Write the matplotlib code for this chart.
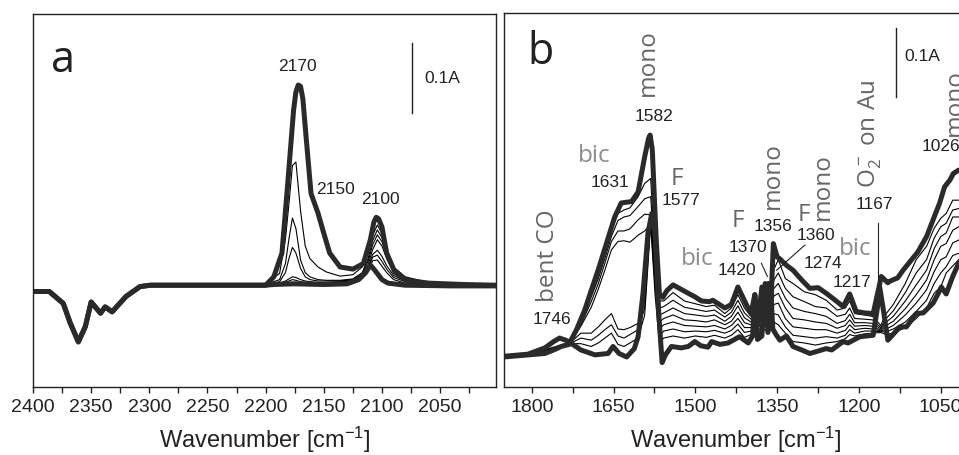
import matplotlib
matplotlib.use('Agg')
import matplotlib.pyplot as plt
from matplotlib.ticker import MultipleLocator

plt.rcParams['font.family'] = ['Liberation Sans', 'DejaVu Sans']
plt.rcParams['mathtext.default'] = 'regular'

# ---------------- panel a (CO region) ----------------
wn_a_top = [2400, 2386, 2374, 2368, 2361, 2355, 2350, 2342, 2338, 2332, 2320, 2308, 2299, 2250, 2200,
            2193, 2186, 2181, 2176, 2174, 2172, 2170, 2168, 2165, 2161, 2155, 2150, 2145, 2136, 2125, 2116, 2110,
            2107, 2105, 2103, 2100, 2096, 2089, 2079, 2060, 2030, 2002]
a_top = [-0.005, -0.005, -0.022, -0.050, -0.077, -0.055, -0.020, -0.036, -0.027, -0.034, -0.012, 0.002, 0.004, 0.004, 0.004,
         0.016, 0.050, 0.150, 0.254, 0.280, 0.290, 0.288, 0.270, 0.211, 0.135, 0.107, 0.078, 0.050, 0.030, 0.027, 0.035, 0.069,
         0.094, 0.101, 0.099, 0.087, 0.050, 0.023, 0.011, 0.007, 0.005, 0.004]

wn_a_bot = [2400, 2386, 2374, 2368, 2361, 2355, 2350, 2342, 2338, 2332, 2320, 2308, 2299, 2250, 2200,
            2193, 2176, 2150, 2130, 2120, 2114, 2110, 2106, 2100, 2095, 2080, 2040, 2002]
a_bot = [-0.005, -0.005, -0.022, -0.050, -0.077, -0.055, -0.020, -0.036, -0.027, -0.034, -0.012, 0.002, 0.004, 0.004, 0.004,
         0.005, 0.006, 0.005, 0.006, 0.012, 0.022, 0.033, 0.025, 0.012, 0.007, 0.004, 0.003, 0.003]

wn_a_thin = [2200, 2188, 2183, 2180, 2177, 2174, 2170, 2166, 2162, 2155, 2148, 2136,
             2125, 2117, 2112, 2108, 2104, 2100, 2096, 2090, 2080, 2060, 2030, 2002]
a_t0 = [0.005, 0.021, 0.070, 0.120, 0.175, 0.180, 0.110, 0.060, 0.042, 0.030, 0.023, 0.017,
        0.019, 0.030, 0.050, 0.075, 0.090, 0.078, 0.055, 0.030, 0.016, 0.008, 0.005, 0.004]
a_t1 = [0.005, 0.012, 0.035, 0.070, 0.100, 0.085, 0.040, 0.022, 0.016, 0.012, 0.011, 0.011,
        0.013, 0.022, 0.042, 0.068, 0.083, 0.072, 0.050, 0.027, 0.014, 0.007, 0.005, 0.004]
a_t2 = [0.005, 0.009, 0.022, 0.042, 0.058, 0.050, 0.028, 0.016, 0.012, 0.010, 0.010, 0.010,
        0.012, 0.020, 0.038, 0.062, 0.076, 0.066, 0.046, 0.025, 0.013, 0.007, 0.005, 0.004]
a_t3 = [0.005, 0.007, 0.010, 0.013, 0.016, 0.015, 0.012, 0.010, 0.009, 0.008, 0.008, 0.009,
        0.011, 0.018, 0.033, 0.055, 0.069, 0.060, 0.042, 0.022, 0.012, 0.006, 0.004, 0.004]
a_t4 = [0.004, 0.006, 0.008, 0.010, 0.012, 0.011, 0.009, 0.008, 0.007, 0.007, 0.007, 0.008,
        0.010, 0.016, 0.030, 0.048, 0.054, 0.045, 0.032, 0.018, 0.010, 0.006, 0.004, 0.004]
a_t5 = [0.004, 0.005, 0.006, 0.007, 0.008, 0.008, 0.007, 0.006, 0.006, 0.006, 0.006, 0.007,
        0.009, 0.015, 0.028, 0.044, 0.047, 0.038, 0.027, 0.015, 0.009, 0.005, 0.004, 0.004]
a_t6 = [0.004, 0.005, 0.005, 0.005, 0.006, 0.006, 0.005, 0.005, 0.005, 0.005, 0.005, 0.006,
        0.008, 0.014, 0.026, 0.039, 0.040, 0.031, 0.022, 0.012, 0.007, 0.005, 0.004, 0.003]
a_thin = [a_t0, a_t1, a_t2, a_t3, a_t4, a_t5, a_t6]

# ---------------- panel b (carbonate region) ----------------
wn_b_top = [1851, 1807, 1776, 1760, 1749, 1738, 1730, 1718, 1703, 1691, 1678, 1666, 1648, 1636, 1617,
            1605, 1593, 1586, 1583, 1579, 1572, 1566, 1560, 1552, 1541, 1513, 1501, 1489, 1474, 1468, 1446,
            1434, 1422, 1406, 1398, 1391, 1386, 1378, 1372, 1366, 1361, 1357, 1350, 1345, 1333, 1321,
            1305, 1290, 1275, 1260, 1245, 1229, 1217, 1205, 1190, 1174, 1166, 1159, 1147, 1144, 1129,
            1119, 1092, 1076, 1064, 1052, 1043, 1033, 1027, 1017]
b_top = [0.001, 0.004, 0.013, 0.022, 0.027, 0.024, 0.021, 0.039, 0.067, 0.095, 0.125, 0.155, 0.200, 0.220, 0.222,
         0.236, 0.286, 0.312, 0.317, 0.296, 0.170, 0.090, 0.085, 0.095, 0.103, 0.091, 0.086, 0.080, 0.079, 0.081, 0.070,
         0.075, 0.100, 0.074, 0.062, 0.089, 0.045, 0.100, 0.060, 0.105, 0.085, 0.162, 0.143, 0.140, 0.131, 0.124,
         0.110, 0.098, 0.099, 0.091, 0.082, 0.072, 0.090, 0.065, 0.063, 0.062, 0.090, 0.115, 0.106, 0.108, 0.113,
         0.124, 0.150, 0.172, 0.196, 0.220, 0.243, 0.253, 0.262, 0.267]

wn_b_bot = [1851, 1776, 1760, 1746, 1727, 1710, 1684, 1660, 1651, 1640, 1626, 1612, 1605, 1596, 1587,
            1580, 1574, 1567, 1561, 1555, 1544, 1526, 1513, 1501, 1490, 1477, 1470, 1455, 1440, 1419,
            1403, 1395, 1391, 1386, 1378, 1372, 1367, 1362, 1358, 1352, 1345, 1333, 1321, 1305, 1290,
            1281, 1260, 1250, 1229, 1220, 1198, 1174, 1166, 1162, 1156, 1147, 1140, 1125, 1113, 1095,
            1082, 1064, 1055, 1049, 1040, 1028, 1017]
b_bot = [0.000, 0.005, 0.010, 0.015, 0.019, 0.010, 0.003, 0.005, 0.015, 0.005, 0.000, 0.012, 0.029, 0.091, 0.177,
         0.205, 0.177, 0.060, -0.008, 0.003, 0.015, 0.013, 0.015, 0.022, 0.016, 0.014, 0.022, 0.018, 0.020, 0.029,
         0.020, 0.030, 0.089, 0.025, 0.030, 0.105, 0.035, 0.100, 0.040, 0.032, 0.024, 0.030, 0.015, 0.010, 0.005,
         0.007, 0.012, 0.010, 0.022, 0.020, 0.029, 0.031, 0.071, 0.100, 0.071, 0.024, 0.030, 0.043, 0.043, 0.062,
         0.063, 0.077, 0.090, 0.100, 0.090, 0.115, 0.134]

wn_b_thin = [1790, 1760, 1730, 1710, 1691, 1678, 1666, 1654, 1642, 1631, 1620, 1605, 1593, 1582, 1574,
             1566, 1558, 1541, 1520, 1500, 1480, 1465, 1446, 1434, 1422, 1410, 1398, 1388, 1375, 1365,
             1356, 1348, 1335, 1321, 1300, 1280, 1260, 1240, 1225, 1217, 1208, 1190, 1175, 1160, 1150,
             1137, 1115, 1095, 1076, 1062, 1050, 1040, 1028, 1017]
b_t0 = [0.007, 0.014, 0.021, 0.050, 0.091, 0.118, 0.148, 0.181, 0.205, 0.210, 0.213, 0.229, 0.248, 0.255, 0.150,
        0.080, 0.080, 0.092, 0.080, 0.076, 0.072, 0.074, 0.062, 0.070, 0.089, 0.070, 0.058, 0.050, 0.075, 0.070,
        0.125, 0.139, 0.112, 0.105, 0.093, 0.089, 0.081, 0.067, 0.070, 0.080, 0.062, 0.060, 0.058, 0.045, 0.062,
        0.075, 0.105, 0.139, 0.158, 0.184, 0.198, 0.205, 0.224, 0.224]
b_t1 = [0.007, 0.013, 0.020, 0.048, 0.086, 0.112, 0.141, 0.172, 0.195, 0.200, 0.202, 0.215, 0.226, 0.229, 0.140,
        0.070, 0.072, 0.081, 0.071, 0.068, 0.065, 0.067, 0.057, 0.064, 0.081, 0.063, 0.054, 0.047, 0.070, 0.064,
        0.110, 0.120, 0.098, 0.086, 0.079, 0.072, 0.070, 0.058, 0.061, 0.070, 0.055, 0.054, 0.053, 0.042, 0.055,
        0.066, 0.092, 0.120, 0.139, 0.170, 0.186, 0.191, 0.210, 0.212]
b_t2 = [0.006, 0.013, 0.020, 0.046, 0.079, 0.105, 0.134, 0.165, 0.180, 0.180, 0.183, 0.196, 0.204, 0.203, 0.130,
        0.060, 0.063, 0.070, 0.062, 0.060, 0.058, 0.060, 0.051, 0.058, 0.073, 0.056, 0.050, 0.044, 0.065, 0.058,
        0.098, 0.105, 0.084, 0.070, 0.065, 0.062, 0.058, 0.048, 0.052, 0.061, 0.049, 0.049, 0.048, 0.040, 0.050,
        0.058, 0.080, 0.103, 0.124, 0.155, 0.172, 0.177, 0.200, 0.200]
b_t3 = [0.006, 0.012, 0.020, 0.044, 0.071, 0.097, 0.124, 0.153, 0.165, 0.166, 0.164, 0.174, 0.180, 0.190, 0.120,
        0.050, 0.055, 0.060, 0.053, 0.052, 0.050, 0.053, 0.046, 0.051, 0.064, 0.049, 0.046, 0.041, 0.058, 0.052,
        0.087, 0.091, 0.070, 0.055, 0.053, 0.050, 0.048, 0.041, 0.045, 0.053, 0.044, 0.045, 0.044, 0.038, 0.045,
        0.051, 0.069, 0.089, 0.110, 0.139, 0.158, 0.162, 0.181, 0.186]
b_t4 = [0.005, 0.012, 0.020, 0.034, 0.034, 0.043, 0.053, 0.062, 0.040, 0.039, 0.042, 0.048, 0.080, 0.200, 0.110,
        0.040, 0.046, 0.050, 0.045, 0.044, 0.043, 0.045, 0.040, 0.045, 0.055, 0.042, 0.042, 0.038, 0.052, 0.046,
        0.075, 0.077, 0.055, 0.043, 0.041, 0.039, 0.039, 0.034, 0.038, 0.046, 0.039, 0.041, 0.040, 0.037, 0.040,
        0.045, 0.060, 0.077, 0.096, 0.122, 0.139, 0.143, 0.163, 0.167]
b_t5 = [0.005, 0.011, 0.019, 0.027, 0.024, 0.031, 0.039, 0.046, 0.030, 0.027, 0.032, 0.039, 0.070, 0.195, 0.100,
        0.030, 0.037, 0.040, 0.036, 0.037, 0.036, 0.038, 0.034, 0.038, 0.047, 0.035, 0.037, 0.035, 0.046, 0.040,
        0.062, 0.060, 0.043, 0.031, 0.029, 0.027, 0.029, 0.027, 0.031, 0.039, 0.034, 0.037, 0.037, 0.036, 0.036,
        0.040, 0.050, 0.065, 0.081, 0.105, 0.120, 0.129, 0.145, 0.148]
b_t6 = [0.004, 0.011, 0.019, 0.019, 0.015, 0.020, 0.027, 0.034, 0.018, 0.015, 0.020, 0.027, 0.060, 0.190, 0.090,
        0.020, 0.027, 0.030, 0.027, 0.030, 0.028, 0.031, 0.027, 0.031, 0.039, 0.028, 0.032, 0.032, 0.040, 0.034,
        0.050, 0.046, 0.034, 0.022, 0.020, 0.017, 0.020, 0.022, 0.026, 0.032, 0.030, 0.033, 0.034, 0.035, 0.032,
        0.034, 0.042, 0.055, 0.070, 0.091, 0.100, 0.120, 0.130, 0.139]
b_thin = [b_t0, b_t1, b_t2, b_t3, b_t4, b_t5, b_t6]

# annotations: (text, wavenumber, absorbance)
nums_a = [('2170', 2173, 0.317), ('2150', 2140, 0.140), ('2100', 2101, 0.126)]
nums_b = [('1582', 1576, 0.343), ('1631', 1657, 0.249), ('1577', 1527, 0.223), ('1746', 1763, 0.053),
          ('1420', 1424, 0.124), ('1370', 1404, 0.157), ('1356', 1358, 0.187), ('1360', 1279, 0.174),
          ('1274', 1266, 0.134), ('1217', 1213, 0.107), ('1167', 1171, 0.218), ('1026', 1049, 0.301)]
gray_b = [('mono', 1587, 0.421, 90, '#666666'), ('bic', 1686, 0.287, 0, '#8c8c8c'), ('F', 1534, 0.254, 0, '#666666'),
          ('bent CO', 1771, 0.144, 90, '#666666'), ('bic', 1496, 0.140, 0, '#8c8c8c'), ('F', 1422, 0.194, 0, '#666666'),
          ('mono', 1358, 0.259, 90, '#666666'), ('F', 1301, 0.203, 0, '#666666'), ('mono', 1266, 0.244, 90, '#666666'),
          ('bic', 1206, 0.154, 0, '#8c8c8c'), ('O$_2^-$ on Au', 1180, 0.318, 90, '#666666'),
          ('mono', 1024, 0.364, 90, '#666666')]

thick = dict(color='#2a2a2a', lw=3.6, solid_joinstyle='round', solid_capstyle='round')
thin = dict(color='black', lw=0.8)

fig = plt.figure(figsize=(9.59, 4.55), dpi=100)
ax1 = fig.add_axes([33/959, 68/455, 463/959, 373/455])
ax2 = fig.add_axes([504/959, 68/455, 464/959, 374/455])

for t in a_thin:
    ax1.plot(wn_a_thin, t, **thin)
ax1.plot(wn_a_bot, a_bot, **thick)
ax1.plot(wn_a_top, a_top, **thick)
ax1.set_xlim(2400, 2002)
ax1.set_ylim(-0.1414, 0.3914)
ax1.xaxis.set_major_locator(MultipleLocator(50))
ax1.xaxis.set_minor_locator(MultipleLocator(25))
for txt, x, y in nums_a:
    ax1.text(x, y, txt, ha='center', va='center', fontsize=12.5, color='#222222')
ax1.plot([2074.4, 2074.4], [0.25, 0.35], color='#222222', lw=1)
ax1.text(2048, 0.299, '0.1A', ha='center', va='center', fontsize=12.5, color='#222222')
ax1.text(0.065, 0.875, 'a', transform=ax1.transAxes, ha='center', va='center',
         fontsize=31, family='Open Sans', color='#222222')

for t in b_thin:
    ax2.plot(wn_b_thin, t, **thin)
ax2.plot(wn_b_bot, b_bot, **thick)
ax2.plot(wn_b_top, b_top, **thick)
ax2.set_xlim(1851, 1000)
ax2.set_ylim(-0.0429, 0.4914)
ax2.xaxis.set_major_locator(MultipleLocator(150))
ax2.xaxis.set_minor_locator(MultipleLocator(75))
for txt, x, y in nums_b:
    ax2.text(x, y, txt, ha='center', va='center', fontsize=12.5, color='#222222')
for txt, x, y, rot, col in gray_b:
    ax2.text(x, y, txt, ha='center', va='center', rotation=rot, fontsize=17.5,
             family='Open Sans', color=col)
ax2.plot([1379, 1368], [0.134, 0.115], color='#222222', lw=0.8)
ax2.plot([1299, 1351], [0.160, 0.124], color='#222222', lw=0.8)
ax2.plot([1165, 1165], [0.191, 0.110], color='#222222', lw=0.8)
ax2.plot([1132.5, 1132.5], [0.371, 0.470], color='#222222', lw=1)
ax2.text(1083, 0.429, '0.1A', ha='center', va='center', fontsize=12.5, color='#222222')
ax2.text(0.078, 0.893, 'b', transform=ax2.transAxes, ha='center', va='center',
         fontsize=31, family='Open Sans', color='#222222')

for ax in (ax1, ax2):
    ax.set_yticks([])
    ax.tick_params(axis='x', which='both', direction='out', length=4, width=1,
                   labelsize=14, colors='#222222', pad=5)
    for s in ax.spines.values():
        s.set_linewidth(1.0)
        s.set_color('#222222')
    ax.set_xlabel('Wavenumber [cm$^{-1}$]', fontsize=17, color='#222222', labelpad=6)

fig.savefig('out.png', dpi=100)
